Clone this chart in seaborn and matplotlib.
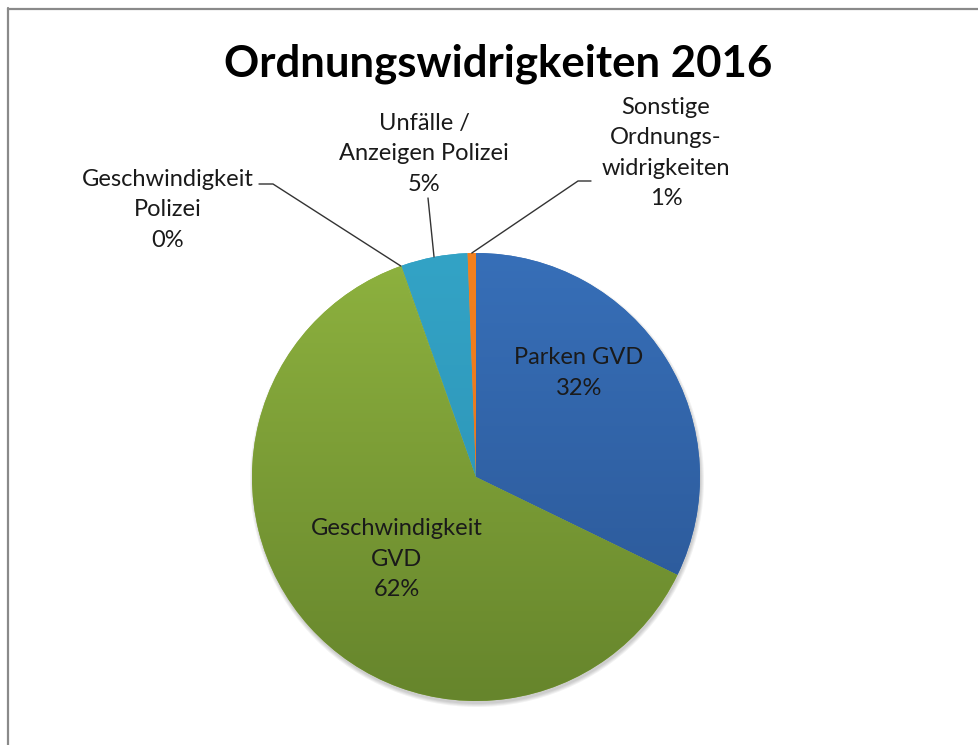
import numpy as np
import matplotlib
matplotlib.use("Agg")
import matplotlib.pyplot as plt
from matplotlib.colors import LinearSegmentedColormap
from matplotlib.patches import Circle
from matplotlib.lines import Line2D
import seaborn as sns

# ---- data ----
categories = ["Parken GVD", "Geschwindigkeit GVD", "Geschwindigkeit Polizei",
              "Unfälle / Anzeigen Polizei", "Sonstige Ordnungswidrigkeiten"]
values = [32.2, 62.3, 0.1, 4.8, 0.6]
pct_labels = ["32%", "62%", "0%", "5%", "1%"]
label_texts = ["Parken GVD", "Geschwindigkeit\nGVD", "Geschwindigkeit\nPolizei",
               "Unfälle /\nAnzeigen Polizei", "Sonstige\nOrdnungs-\nwidrigkeiten"]
title = "Ordnungswidrigkeiten 2016"

top_colors = ["#376fb8", "#8eb23f", "#8eb23f", "#33a3c6", "#f3811f"]
bot_colors = ["#2a5593", "#66852c", "#66852c", "#2b8fb0", "#e0701a"]

sns.set_theme(style="white")
plt.rcParams["font.family"] = ["Lato", "DejaVu Sans"]

W, H = 979, 745
fig = plt.figure(figsize=(W / 100, H / 100), dpi=100)
fig.patch.set_facecolor("white")
ax = fig.add_axes([0, 0, 1, 1])

def P(x, y):
    return x, H - y

cx, cy = P(476, 477)
r = 224

wedges, _ = ax.pie(values, colors=top_colors, startangle=90, counterclock=False,
                   center=(cx, cy), radius=r, frame=True,
                   wedgeprops=dict(linewidth=0, zorder=2))

# soft shadow
for i, a in enumerate([0.05, 0.05, 0.05, 0.05]):
    ax.add_patch(Circle((cx + 1, cy - 3), r + 3 - i, color="black", alpha=a, lw=0, zorder=1))

grad = np.linspace(1, 0, 256).reshape(-1, 1)
for w, tc, bc in zip(wedges, top_colors, bot_colors):
    cmap = LinearSegmentedColormap.from_list("g", [bc, tc])
    im = ax.imshow(grad, cmap=cmap, extent=[cx - r, cx + r, cy - r, cy + r],
                   aspect="auto", zorder=3, interpolation="bilinear")
    im.set_clip_path(w)

ax.set_xlim(0, W)
ax.set_ylim(0, H)
ax.set_aspect("equal")
ax.axis("off")

def mid_point(w):
    ang = np.deg2rad((w.theta1 + w.theta2) / 2)
    return cx + r * np.cos(ang), cy + r * np.sin(ang)

fs = 17
ls = 1.55
tc_ = "#1a1a1a"
# inside labels
ax.text(*P(579, 373), label_texts[0] + "\n" + pct_labels[0], ha="center", va="center",
        fontsize=fs, color=tc_, linespacing=ls, zorder=5)
ax.text(*P(397, 559), label_texts[1] + "\n" + pct_labels[1], ha="center", va="center",
        fontsize=fs, color=tc_, linespacing=ls, zorder=5)
# outside labels
ax.text(*P(168, 210), label_texts[2] + "\n" + pct_labels[2], ha="center", va="center",
        fontsize=fs, color=tc_, linespacing=ls, zorder=5)
ax.text(*P(424, 154), label_texts[3] + "\n" + pct_labels[3], ha="center", va="center",
        fontsize=fs, color=tc_, linespacing=ls, zorder=5)
ax.text(*P(666, 153), label_texts[4] + "\n" + pct_labels[4], ha="center", va="center",
        fontsize=fs, color=tc_, linespacing=ls, zorder=5)

# leader lines
lc = "#333333"
mx, my = mid_point(wedges[2])
ax.plot([P(259, 184)[0], P(273, 184)[0], mx], [P(259, 184)[1], P(273, 184)[1], my],
        color=lc, lw=1, zorder=4)
mx, my = mid_point(wedges[3])
ax.plot([P(428, 198)[0], mx], [P(428, 198)[1], my], color=lc, lw=1, zorder=4)
mx, my = mid_point(wedges[4])
ax.plot([P(591, 181)[0], P(578, 181)[0], mx], [P(591, 181)[1], P(578, 181)[1], my],
        color=lc, lw=1, zorder=4)

ax.text(*P(498, 64), title, ha="center", va="center", fontsize=31.5,
        fontweight="bold", color="black", zorder=5)

# chart border (left and top)
fig.add_artist(Line2D([8.5 / W, 8.5 / W], [0, 1 - 8 / H], color="#8a8a8a", lw=1.6,
                      transform=fig.transFigure))
fig.add_artist(Line2D([8 / W, 1], [1 - 8.5 / H, 1 - 8.5 / H], color="#8a8a8a", lw=1.6,
                      transform=fig.transFigure))

fig.savefig("out.png", dpi=100, facecolor="white")
